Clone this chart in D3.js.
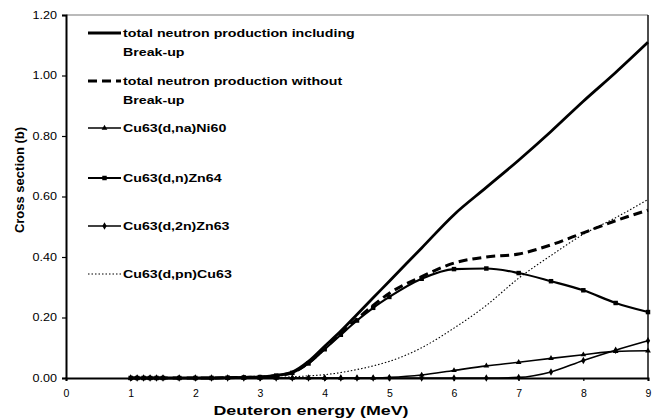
<!DOCTYPE html>
<html>
<head>
<meta charset="utf-8">
<script src="https://d3js.org/d3.v7.min.js"></script>
<style>
  body { margin: 0; background: #fff; }
  text { font-family: "Liberation Sans", Arial, sans-serif; fill: #000; }
</style>
</head>
<body>
<svg width="653" height="419"></svg>
<script>
// energies (MeV)
var energy = [1, 1.1, 1.2, 1.3, 1.4, 1.5, 1.75, 2, 2.25, 2.5, 2.75, 3, 3.25, 3.5, 3.75, 4,
  4.25, 4.5, 4.75, 5, 5.5, 6, 6.5, 7, 7.5, 8, 8.5, 9];

// cross sections (b)
var totalBreakup = [0, 0, 0, 0, 0, 0, 0, 0, 0, 0.001, 0.002, 0.004, 0.009, 0.02, 0.055, 0.105,
  0.155, 0.21, 0.265, 0.32, 0.43, 0.54, 0.63, 0.72, 0.815, 0.915, 1.01, 1.11];
var totalNoBreakup = [0, 0, 0, 0, 0, 0, 0, 0, 0, 0.001, 0.002, 0.003, 0.008, 0.018, 0.05, 0.098,
  0.148, 0.195, 0.24, 0.28, 0.335, 0.38, 0.4, 0.41, 0.44, 0.48, 0.52, 0.555];
var ni60 = [0, 0, 0, 0, 0, 0, 0, 0, 0, 0, 0, 0, 0, 0, 0, 0,
  0, 0, 0, 0.002, 0.01, 0.025, 0.04, 0.052, 0.065, 0.077, 0.088, 0.09];
var zn64 = [0, 0, 0, 0, 0, 0, 0, 0, 0, 0.001, 0.002, 0.003, 0.008, 0.017, 0.048, 0.095,
  0.143, 0.19, 0.232, 0.268, 0.328, 0.36, 0.362, 0.347, 0.32, 0.29, 0.248, 0.218];
var zn63 = [0, 0, 0, 0, 0, 0, 0, 0, 0, 0, 0, 0, 0, 0, 0, 0,
  0, 0, 0, 0, 0, 0, 0, 0.002, 0.02, 0.058, 0.092, 0.123];
var cu63pn = [0, 0, 0, 0, 0, 0, 0, 0, 0, 0, 0, 0.001, 0.002, 0.004, 0.007, 0.011,
  0.018, 0.028, 0.04, 0.055, 0.1, 0.165, 0.24, 0.33, 0.405, 0.475, 0.53, 0.59];

var xTicks = [0, 1, 2, 3, 4, 5, 6, 7, 8, 9];
var yTicks = [0, 0.2, 0.4, 0.6, 0.8, 1.0, 1.2];

var labels = [
  ['total neutron production including', 'Break-up'],
  ['total neutron production without', 'Break-up'],
  ['Cu63(d,na)Ni60'],
  ['Cu63(d,n)Zn64'],
  ['Cu63(d,2n)Zn63'],
  ['Cu63(d,pn)Cu63']
];

// series: waarden + stijl
var series = [
  { values: totalBreakup, width: 2.8, dash: null, marker: null, legendY: 33 },
  { values: totalNoBreakup, width: 3, dash: '9,5', marker: null, legendY: 81 },
  { values: ni60, width: 1.6, dash: null, marker: d3.symbolTriangle, size: 14, legendY: 128 },
  { values: zn64, width: 2.2, dash: null, marker: d3.symbolSquare, size: 20, legendY: 178 },
  { values: zn63, width: 1.6, dash: null, marker: d3.symbolDiamond, size: 16, legendY: 226 },
  { values: cu63pn, width: 1.1, dash: '1.5,2', marker: null, legendY: 274 }
];

// het plaatje is horizontaal uitgerekt, dus tekst ook
var stretch = 1.29;

var margin = { top: 15, right: 5, bottom: 41, left: 66 };
var width = 653 - margin.left - margin.right,
    height = 419 - margin.top - margin.bottom;

var root = d3.select('svg');
var svg = root.append('g')
    .attr('transform', 'translate(' + margin.left + ',' + margin.top + ')');

var x = d3.scaleLinear().domain([0, 9]).range([0, width]);
var y = d3.scaleLinear().domain([0, 1.2]).range([height, 0]);

function widen(sel, k) {
  sel.each(function() {
    var w = this.getComputedTextLength();
    d3.select(this).attr('textLength', w * k).attr('lengthAdjust', 'spacingAndGlyphs');
  });
}

// kader boven en rechts
svg.append('line')
  .attr('x1', 0).attr('x2', width).attr('y1', 0).attr('y2', 0)
  .attr('stroke', '#777').attr('stroke-width', 1.2);
svg.append('line')
  .attr('x1', width).attr('x2', width).attr('y1', 0).attr('y2', height)
  .attr('stroke', '#111').attr('stroke-width', 1.5);

// assen
var xAxis = svg.append('g')
  .attr('transform', 'translate(0,' + height + ')')
  .call(d3.axisBottom(x).tickValues(xTicks).tickSize(3).tickPadding(9).tickFormat(d3.format('d')));
var yAxis = svg.append('g')
  .call(d3.axisLeft(y).tickValues(yTicks).tickSize(4).tickPadding(5).tickFormat(d3.format('.2f')));

[xAxis, yAxis].forEach(function(a) {
  a.select('.domain').attr('stroke', '#000').attr('stroke-width', 2);
  a.selectAll('.tick line').attr('stroke', '#000').attr('stroke-width', 1.2);
  a.selectAll('.tick text').style('font-size', '10.5px').attr('fill', '#000');
});
widen(yAxis.selectAll('.tick text'), 1.2);

// lijnen
var line = function(vals) {
  return d3.line()
    .x(function(d, i) { return x(energy[i]); })
    .y(function(d) { return y(d); })
    .curve(d3.curveMonotoneX)(vals);
};

var drawOrder = [5, 4, 2, 3, 1, 0];
drawOrder.forEach(function(k) {
  var s = series[k];
  svg.append('path')
    .attr('d', line(s.values))
    .attr('fill', 'none')
    .attr('stroke', '#000')
    .attr('stroke-width', s.width)
    .attr('stroke-dasharray', s.dash)
    .attr('stroke-linejoin', 'round');

  if (s.marker) {
    svg.selectAll(null)
      .data(s.values)
      .enter()
      .append('path')
      .attr('d', d3.symbol().type(s.marker).size(s.size))
      .attr('transform', function(d, i) {
        return 'translate(' + x(energy[i]) + ',' + y(d) + ')';
      })
      .attr('fill', '#000');
  }
});

// legenda
var legend = root.append('g');
series.forEach(function(s, k) {
  var g = legend.append('g').attr('transform', 'translate(0,' + s.legendY + ')');
  g.append('line')
    .attr('x1', 88).attr('x2', 121).attr('y1', 0).attr('y2', 0)
    .attr('stroke', '#000')
    .attr('stroke-width', s.width)
    .attr('stroke-dasharray', s.dash);
  if (s.marker) {
    g.append('path')
      .attr('d', d3.symbol().type(s.marker).size(s.size))
      .attr('transform', 'translate(104.5,0)')
      .attr('fill', '#000');
  }
  labels[k].forEach(function(t, j) {
    g.append('text')
      .attr('x', 123)
      .attr('y', j * 19.5)
      .attr('dy', '0.35em')
      .style('font-size', '11px')
      .style('font-weight', 'bold')
      .text(t);
  });
});
widen(legend.selectAll('text'), stretch);

// astitels
var xTitle = root.append('text')
  .attr('x', 311)
  .attr('y', 415)
  .attr('text-anchor', 'middle')
  .style('font-size', '13.5px')
  .style('font-weight', 'bold')
  .text('Deuteron energy (MeV)');
widen(xTitle, 1.32);

root.append('text')
  .attr('transform', 'translate(24,180) rotate(-90)')
  .attr('text-anchor', 'middle')
  .style('font-size', '13px')
  .style('font-weight', 'bold')
  .text('Cross section (b)');
</script>
</body>
</html>
